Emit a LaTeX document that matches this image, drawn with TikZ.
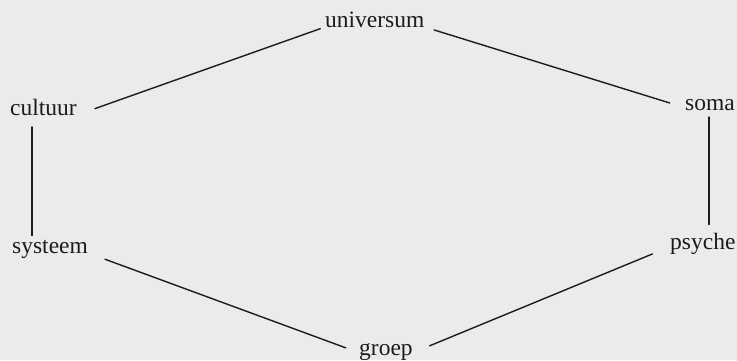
\documentclass[tikz,border=0pt]{standalone}
\usepackage{fontspec}
\setmainfont{Liberation Serif}
\usepackage{xcolor}
\usetikzlibrary{positioning}

\definecolor{paper}{HTML}{EBEBEB}
\definecolor{ink}{HTML}{1C1C1C}

\begin{document}
\begin{tikzpicture}[
        x=1pt, y=-1pt,
        term/.style={inner sep=0pt, anchor=base west, text=ink, font=\fontsize{23.5}{28}\selectfont},
        link/.style={draw=ink, line width=1.4pt, line cap=round}
        ]

        \fill[paper] (0,0) rectangle (737,360);
        \useasboundingbox (0,0) rectangle (737,360);

        \node[term] (universum) at (325,27) {universum};
        \node[term] (cultuur) at (10,115) {cultuur};
        \node[term] (soma) at (685,110) {soma};
        \node[term] (systeem) at (12,253) {systeem};
        \node[term] (psyche) at (670,249) {psyche};
        \node[term] (groep) at (359,355) {groep};

        \draw[link, shorten <=5pt, shorten >=19pt] (universum.base west) -- (cultuur.base east);
        \draw[link, shorten <=10pt, shorten >=16pt] (universum.base east) -- (soma.mid west);
        \draw[link] ([xshift=22pt, yshift=-12pt]cultuur.base west) -- ([xshift=22pt, yshift=4pt]cultuur.base west |- systeem.north);
        \draw[link] ([xshift=24pt, yshift=-7pt]soma.base west) -- ([xshift=24pt, yshift=8pt]soma.base west |- psyche.north);
        \draw[link, shorten <=18pt, shorten >=14pt] (systeem.base east) -- (groep.mid west);
        \draw[link, shorten <=18pt, shorten >=19pt] (groep.mid east) -- (psyche.mid west);
\end{tikzpicture}
\end{document}
